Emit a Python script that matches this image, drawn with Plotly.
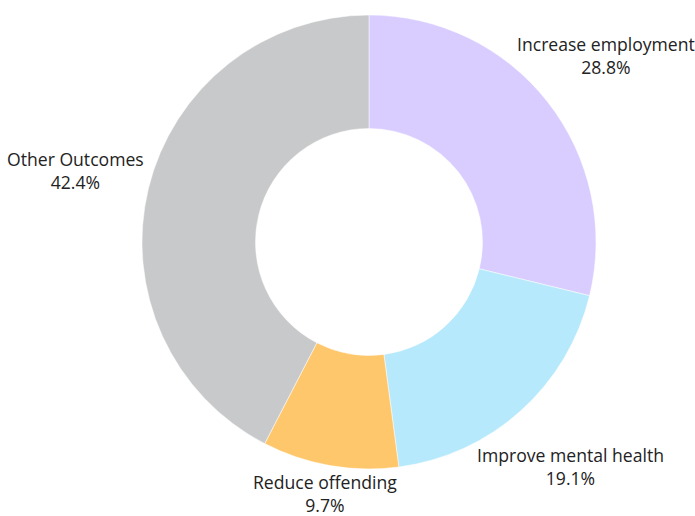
import math
import plotly.graph_objects as go

labels = ["Increase employment", "Improve mental health", "Reduce offending", "Other Outcomes"]
values = [28.8, 19.1, 9.7, 42.4]
colors = ["#d9ccff", "#b6e9fc", "#ffc76b", "#c8c9ca"]

W, H = 695, 516
CX, CY, R = 369, 242, 227          # pie centre and radius in pixels
LABEL_R = 302                      # distance of label centre from pie centre
TEXT_H = 46                        # approx. height of a two-line label
FONT = dict(family="Open Sans", size=17.6, color="#222222")

dom_x = [(CX - R) / W, (CX + R) / W]
dom_y = [1 - (CY + R) / H, 1 - (CY - R) / H]

fig = go.Figure(go.Pie(
    labels=labels,
    values=values,
    hole=0.5,
    sort=False,
    direction="clockwise",
    rotation=0,
    marker=dict(colors=colors, line=dict(color="white", width=0.5)),
    textinfo="none",
    hoverinfo="label+percent",
    domain=dict(x=dom_x, y=dom_y),
    showlegend=False,
))

total = sum(values)
cum = 0.0
annotations = []
for lab, v in zip(labels, values):
    mid = (cum + v / 2) / total * 2 * math.pi
    cum += v
    s, c = math.sin(mid), math.cos(mid)
    rr = LABEL_R
    # keep label inside the figure vertically
    y = CY - rr * c
    if y + TEXT_H / 2 > H:
        rr = (H - TEXT_H / 2 - CY) / (-c)
    if y - TEXT_H / 2 < 0:
        rr = (CY - TEXT_H / 2) / c
    px = CX + rr * s
    py = CY - rr * c
    annotations.append(dict(
        x=px / W, y=1 - py / H, xref="paper", yref="paper",
        text=f"{lab}<br>{v / total * 100:.1f}%",
        showarrow=False, font=FONT, align="center",
        xanchor="center", yanchor="middle",
    ))

fig.update_layout(
    width=W, height=H,
    margin=dict(l=0, r=0, t=0, b=0),
    paper_bgcolor="white",
    plot_bgcolor="white",
    annotations=annotations,
)
fig.write_html("out.html", config={"displayModeBar": False},
               post_script="document.body.style.margin='0px';")
